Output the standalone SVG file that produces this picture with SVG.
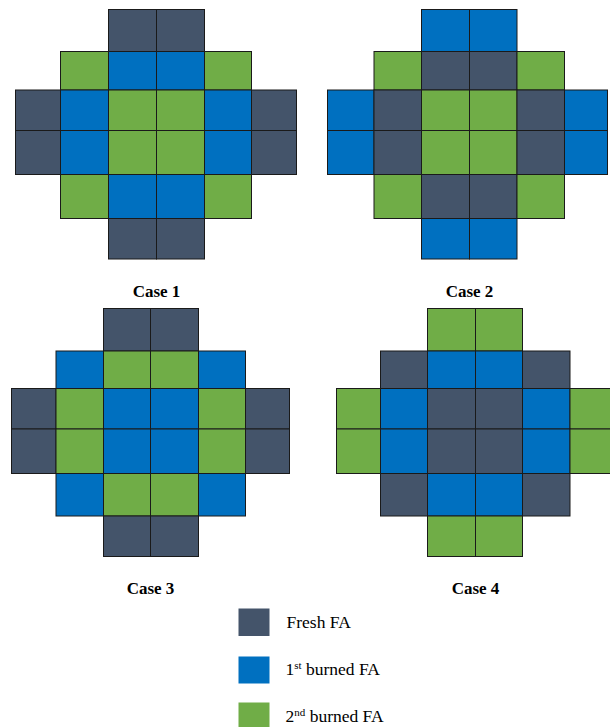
<svg xmlns="http://www.w3.org/2000/svg" width="610" height="727" viewBox="0 0 610 727">
<style>
.f{fill:#44546A}.b{fill:#0070C0}.g{fill:#70AD47}
rect{stroke:#1a1a1a;stroke-width:1}
.sup{font-size:11px}
</style>
<rect x="0" y="0" width="610" height="727" fill="#fff" style="stroke:none"/>
<g id="case1">
<rect class="f" x="108.5" y="9.5" width="48" height="42"/><rect class="f" x="156.5" y="9.5" width="48" height="42"/>
<rect class="g" x="60.5" y="51.5" width="48" height="38.5"/><rect class="b" x="108.5" y="51.5" width="48" height="38.5"/><rect class="b" x="156.5" y="51.5" width="48" height="38.5"/><rect class="g" x="204.5" y="51.5" width="47" height="38.5"/>
<rect class="f" x="15.5" y="90" width="45" height="40.5"/><rect class="b" x="60.5" y="90" width="48" height="40.5"/><rect class="g" x="108.5" y="90" width="48" height="40.5"/><rect class="g" x="156.5" y="90" width="48" height="40.5"/><rect class="b" x="204.5" y="90" width="47" height="40.5"/><rect class="f" x="251.5" y="90" width="45" height="40.5"/>
<rect class="f" x="15.5" y="130.5" width="45" height="44"/><rect class="b" x="60.5" y="130.5" width="48" height="44"/><rect class="g" x="108.5" y="130.5" width="48" height="44"/><rect class="g" x="156.5" y="130.5" width="48" height="44"/><rect class="b" x="204.5" y="130.5" width="47" height="44"/><rect class="f" x="251.5" y="130.5" width="45" height="44"/>
<rect class="g" x="60.5" y="174.5" width="48" height="44"/><rect class="b" x="108.5" y="174.5" width="48" height="44"/><rect class="b" x="156.5" y="174.5" width="48" height="44"/><rect class="g" x="204.5" y="174.5" width="47" height="44"/>
<rect class="f" x="108.5" y="218.5" width="48" height="40.5"/><rect class="f" x="156.5" y="218.5" width="48" height="40.5"/>
<text font-family="Liberation Serif, DejaVu Serif, serif" font-weight="bold" font-size="17" text-anchor="middle" x="156.5" y="297">Case 1</text>
</g>
<g id="case2">
<rect class="b" x="421.5" y="9.5" width="48" height="42"/><rect class="b" x="469.5" y="9.5" width="47.5" height="42"/>
<rect class="g" x="374" y="51.5" width="47.5" height="38.5"/><rect class="f" x="421.5" y="51.5" width="48" height="38.5"/><rect class="f" x="469.5" y="51.5" width="47.5" height="38.5"/><rect class="g" x="517" y="51.5" width="47.5" height="38.5"/>
<rect class="b" x="327.5" y="90" width="46.5" height="40.5"/><rect class="f" x="374" y="90" width="47.5" height="40.5"/><rect class="g" x="421.5" y="90" width="48" height="40.5"/><rect class="g" x="469.5" y="90" width="47.5" height="40.5"/><rect class="f" x="517" y="90" width="47.5" height="40.5"/><rect class="b" x="564.5" y="90" width="43" height="40.5"/>
<rect class="b" x="327.5" y="130.5" width="46.5" height="44"/><rect class="f" x="374" y="130.5" width="47.5" height="44"/><rect class="g" x="421.5" y="130.5" width="48" height="44"/><rect class="g" x="469.5" y="130.5" width="47.5" height="44"/><rect class="f" x="517" y="130.5" width="47.5" height="44"/><rect class="b" x="564.5" y="130.5" width="43" height="44"/>
<rect class="g" x="374" y="174.5" width="47.5" height="44"/><rect class="f" x="421.5" y="174.5" width="48" height="44"/><rect class="f" x="469.5" y="174.5" width="47.5" height="44"/><rect class="g" x="517" y="174.5" width="47.5" height="44"/>
<rect class="b" x="421.5" y="218.5" width="48" height="40.5"/><rect class="b" x="469.5" y="218.5" width="47.5" height="40.5"/>
<text font-family="Liberation Serif, DejaVu Serif, serif" font-weight="bold" font-size="17" text-anchor="middle" x="469.5" y="297">Case 2</text>
</g>
<g id="case3">
<rect class="f" x="103.5" y="308.5" width="47" height="42.5"/><rect class="f" x="150.5" y="308.5" width="48" height="42.5"/>
<rect class="b" x="56" y="351" width="47.5" height="37.5"/><rect class="g" x="103.5" y="351" width="47" height="37.5"/><rect class="g" x="150.5" y="351" width="48" height="37.5"/><rect class="b" x="198.5" y="351" width="47" height="37.5"/>
<rect class="f" x="11.5" y="388.5" width="44.5" height="40.5"/><rect class="g" x="56" y="388.5" width="47.5" height="40.5"/><rect class="b" x="103.5" y="388.5" width="47" height="40.5"/><rect class="b" x="150.5" y="388.5" width="48" height="40.5"/><rect class="g" x="198.5" y="388.5" width="47" height="40.5"/><rect class="f" x="245.5" y="388.5" width="44" height="40.5"/>
<rect class="f" x="11.5" y="429" width="44.5" height="44.5"/><rect class="g" x="56" y="429" width="47.5" height="44.5"/><rect class="b" x="103.5" y="429" width="47" height="44.5"/><rect class="b" x="150.5" y="429" width="48" height="44.5"/><rect class="g" x="198.5" y="429" width="47" height="44.5"/><rect class="f" x="245.5" y="429" width="44" height="44.5"/>
<rect class="b" x="56" y="473.5" width="47.5" height="42.5"/><rect class="g" x="103.5" y="473.5" width="47" height="42.5"/><rect class="g" x="150.5" y="473.5" width="48" height="42.5"/><rect class="b" x="198.5" y="473.5" width="47" height="42.5"/>
<rect class="f" x="103.5" y="516" width="47" height="40.5"/><rect class="f" x="150.5" y="516" width="48" height="40.5"/>
<text font-family="Liberation Serif, DejaVu Serif, serif" font-weight="bold" font-size="17" text-anchor="middle" x="150.5" y="594">Case 3</text>
</g>
<g id="case4">
<rect class="g" x="427.5" y="308.5" width="48" height="42.5"/><rect class="g" x="475.5" y="308.5" width="47" height="42.5"/>
<rect class="f" x="380.5" y="351" width="47" height="37.5"/><rect class="b" x="427.5" y="351" width="48" height="37.5"/><rect class="b" x="475.5" y="351" width="47" height="37.5"/><rect class="f" x="522.5" y="351" width="47.5" height="37.5"/>
<rect class="g" x="336.5" y="388.5" width="44" height="40.5"/><rect class="b" x="380.5" y="388.5" width="47" height="40.5"/><rect class="f" x="427.5" y="388.5" width="48" height="40.5"/><rect class="f" x="475.5" y="388.5" width="47" height="40.5"/><rect class="b" x="522.5" y="388.5" width="47.5" height="40.5"/><rect class="g" x="570" y="388.5" width="44" height="40.5"/>
<rect class="g" x="336.5" y="429" width="44" height="44.5"/><rect class="b" x="380.5" y="429" width="47" height="44.5"/><rect class="f" x="427.5" y="429" width="48" height="44.5"/><rect class="f" x="475.5" y="429" width="47" height="44.5"/><rect class="b" x="522.5" y="429" width="47.5" height="44.5"/><rect class="g" x="570" y="429" width="44" height="44.5"/>
<rect class="f" x="380.5" y="473.5" width="47" height="42.5"/><rect class="b" x="427.5" y="473.5" width="48" height="42.5"/><rect class="b" x="475.5" y="473.5" width="47" height="42.5"/><rect class="f" x="522.5" y="473.5" width="47.5" height="42.5"/>
<rect class="g" x="427.5" y="516" width="48" height="40.5"/><rect class="g" x="475.5" y="516" width="47" height="40.5"/>
<text font-family="Liberation Serif, DejaVu Serif, serif" font-weight="bold" font-size="17" text-anchor="middle" x="475.5" y="594">Case 4</text>
</g>
<g id="legend-fresh">
<rect class="f" x="238.5" y="608.5" width="31" height="27.5" style="stroke:none"/>
<text font-family="Liberation Serif, DejaVu Serif, serif" font-size="17.5" x="286.5" y="628">Fresh FA</text>
</g>
<g id="legend-1st">
<rect class="b" x="238.5" y="656.5" width="31" height="27" style="stroke:none"/>
<text font-family="Liberation Serif, DejaVu Serif, serif" font-size="17.5" x="285.5" y="675">1<tspan class="sup" dy="-6">st</tspan><tspan dy="6"> burned FA</tspan></text>
</g>
<g id="legend-2nd">
<rect class="g" x="238.5" y="702.5" width="31" height="26" style="stroke:none"/>
<text font-family="Liberation Serif, DejaVu Serif, serif" font-size="17.5" x="285.5" y="721.5">2<tspan class="sup" dy="-6">nd</tspan><tspan dy="6"> burned FA</tspan></text>
</g>
</svg>
